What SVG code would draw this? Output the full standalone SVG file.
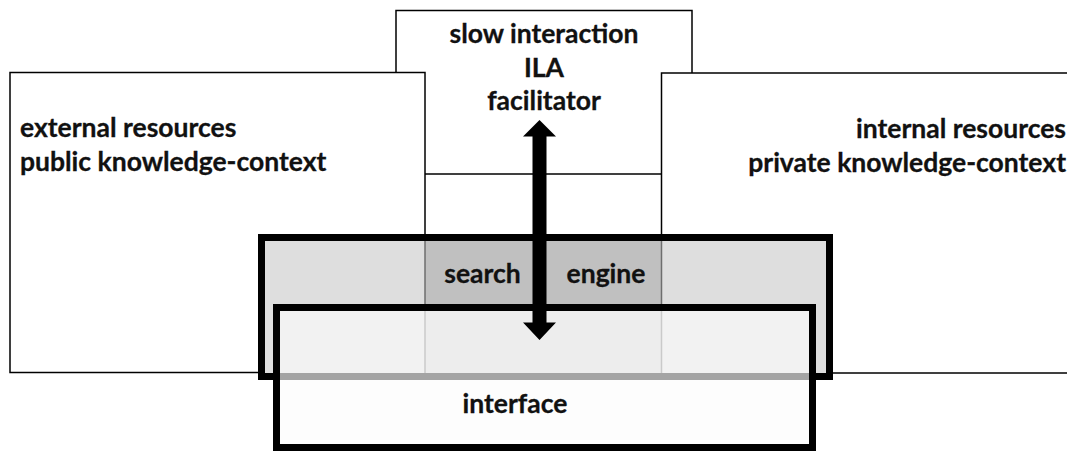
<svg xmlns="http://www.w3.org/2000/svg" width="1067" height="451" viewBox="0 0 1067 451">
  <style>
    .frame { fill: #ffffff; stroke: #000000; stroke-width: 1.5; }
    .label { font-family: Lato, "Liberation Sans", sans-serif; font-weight: bold; font-size: 26.5px; fill: #111111; stroke: #111111; stroke-width: 0.3; }
    .thick { stroke: #000000; stroke-width: 7; }
  </style>

  <rect width="1067" height="451" fill="#ffffff"/>

  <!-- facilitator panel at the top; its lower corners are covered by the side panels -->
  <g id="facilitator">
    <rect class="frame" x="396" y="10.5" width="296" height="163.5"/>
    <text class="label" x="544" y="43" text-anchor="middle">slow interaction</text>
    <text class="label" x="544" y="77" text-anchor="middle">ILA</text>
    <text class="label" x="544" y="110" text-anchor="middle">facilitator</text>
  </g>

  <!-- external resources panel -->
  <g id="external-resources">
    <rect class="frame" x="10" y="72.5" width="415" height="300"/>
    <text class="label" x="20" y="137">external resources</text>
    <text class="label" x="20" y="171">public knowledge-context</text>
  </g>

  <!-- internal resources panel, running past the right edge -->
  <g id="internal-resources">
    <rect class="frame" x="661.5" y="73" width="420" height="300"/>
    <text class="label" x="1066" y="138" text-anchor="end">internal resources</text>
    <text class="label" x="1066" y="172" text-anchor="end">private knowledge-context</text>
  </g>

  <!-- search engine band -->
  <g id="search-engine">
    <rect x="261.5" y="237.5" width="568" height="139" fill="#dedede"/>
    <rect x="425" y="241" width="236.5" height="64" fill="#c0c0c0"/>
    <rect x="425" y="305" width="236.5" height="68" fill="#d0d0d0"/>
    <line x1="425" y1="241" x2="425" y2="373" stroke="#6e6e6e" stroke-width="1.5"/>
    <line x1="661.5" y1="241" x2="661.5" y2="373" stroke="#6e6e6e" stroke-width="1.5"/>
    <rect class="thick" x="261.5" y="237.5" width="568" height="139" fill="none"/>
    <text class="label" x="482.5" y="283" text-anchor="middle">search</text>
    <text class="label" x="606" y="283" text-anchor="middle">engine</text>
  </g>

  <!-- interface band, translucent over the search engine -->
  <g id="interface">
    <rect class="thick" x="276.5" y="307.5" width="536" height="140" fill="#fcfcfc" fill-opacity="0.65"/>
    <text class="label" x="515" y="413" text-anchor="middle">interface</text>
  </g>

  <!-- two-way exchange between facilitator and interface -->
  <g id="connectors">
    <polygon fill="#000000" points="539.5,120 556,136.5 546.5,136.5 546.5,322.5 556,322.5 539.5,340 523,322.5 532.5,322.5 532.5,136.5 523,136.5"/>
  </g>
</svg>
